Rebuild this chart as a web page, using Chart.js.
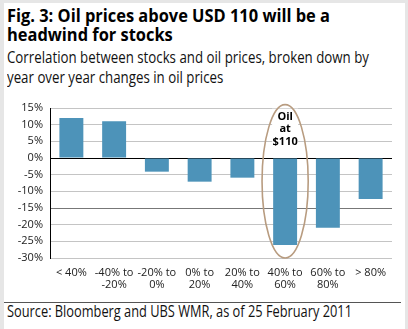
<!DOCTYPE html>
<html><head><meta charset="utf-8">
<script src="https://cdn.jsdelivr.net/npm/chart.js@4.4.1/dist/chart.umd.min.js"></script>
<style>
html,body{margin:0;padding:0;}
body{width:408px;height:329px;background:#e6e6e6;position:relative;overflow:hidden;font-family:"Open Sans",sans-serif;}
#panel{position:absolute;left:4px;top:3px;width:401px;height:326px;background:#fff;}
.t{position:absolute;left:7px;white-space:nowrap;transform-origin:0 0;color:#000;display:inline-block;}
.b{font-weight:700;font-size:18px;line-height:19px;}
.s{font-size:17px;line-height:19px;color:#111;}
.src{font-size:15.5px;line-height:17px;color:#111;}
#rule{position:absolute;left:4px;top:302px;width:397px;height:1px;background:#555;}
canvas{position:absolute;left:0;top:0;}
</style></head>
<body>
<div id="panel"></div>
<div class="t b" id="t1" data-w="323" style="top:6px">Fig. 3: Oil prices above USD 110 will be a</div>
<div class="t b" id="t2" data-ref="t1" style="top:25px">headwind for stocks</div>
<div class="t s" id="s1" data-w="362" style="top:47px">Correlation between stocks and oil prices, broken down by</div>
<div class="t s" id="s2" data-ref="s1" style="top:67px">year over year changes in oil prices</div>
<div id="rule"></div>
<div class="t src" id="src" data-w="345" style="top:303px">Source: Bloomberg and UBS WMR, as of 25 February 2011</div>
<canvas id="c" width="408" height="329"></canvas>
<script>
// ---- data ----
const categories = [["< 40%"], ["-40% to", "-20%"], ["-20% to", "0%"], ["0% to", "20%"], ["20% to", "40%"], ["40% to", "60%"], ["60% to", "80%"], ["> 80%"]];
const correlation = [12, 11, -4.1, -7.1, -5.9, -26.1, -20.9, -12.3];
const yTicks = [15, 10, 5, 0, -5, -10, -15, -20, -25, -30];
const calloutLines = ["Oil", "at", "$110"];
const calloutIndex = 5;

// ---- fit text widths ----
const scales = {};
document.querySelectorAll('.t').forEach(el => {
  const w = el.getBoundingClientRect().width;
  let s;
  if (el.dataset.w) { s = parseFloat(el.dataset.w) / w; scales[el.id] = s; }
  else s = scales[el.dataset.ref];
  el.style.transform = 'scaleX(' + s + ')';
});

const ovalPlugin = {
  id: 'oval',
  afterDatasetsDraw(chart) {
    const {ctx, scales: {x, y}} = chart;
    const cx = x.getPixelForValue(calloutIndex);
    const cw = x.getPixelForValue(1) - x.getPixelForValue(0);
    const top = y.getPixelForValue(16);
    const bot = y.getPixelForValue(-30);
    const rx = cw * 0.54, ry = (bot - top) / 2, cy = (top + bot) / 2;
    ctx.save();
    ctx.fillStyle = '#fff';
    ctx.fillRect(cx - 13, y.getPixelForValue(14.8), 26, y.getPixelForValue(2.4) - y.getPixelForValue(14.8));
    ctx.beginPath();
    ctx.ellipse(cx, cy, rx, ry, 0, 0, Math.PI * 2);
    ctx.strokeStyle = '#b89c80';
    ctx.lineWidth = 1.6;
    ctx.stroke();
    ctx.fillStyle = '#000';
    ctx.font = 'bold 11px "Open Sans"';
    ctx.textAlign = 'center';
    ctx.textBaseline = 'middle';
    const vals = [12.4, 8.6, 4.8];
    calloutLines.forEach((t, i) => ctx.fillText(t, cx, y.getPixelForValue(vals[i])));
    ctx.restore();
  }
};

new Chart(document.getElementById('c'), {
  type: 'bar',
  data: {
    labels: categories,
    datasets: [{
      data: correlation,
      backgroundColor: '#4d93b9',
      borderWidth: 0,
      categoryPercentage: 1,
      barPercentage: 0.56
    }]
  },
  options: {
    responsive: false,
    animation: false,
    devicePixelRatio: 1,
    layout: {padding: {top: 108, right: 16, bottom: 29, left: 0}},
    plugins: {legend: {display: false}, tooltip: {enabled: false}},
    scales: {
      x: {
        grid: {display: false, drawTicks: false},
        border: {display: false},
        afterFit(s) { s.height = 42; },
        ticks: {
          padding: 9, color: '#222', maxRotation: 0, autoSkip: false,
          font: {family: '"Open Sans"', size: 11, lineHeight: 1.1}
        }
      },
      y: {
        min: -30, max: 15,
        afterFit(s) { s.width = 50; },
        afterBuildTicks(s) { s.ticks = yTicks.map(v => ({value: v})); },
        border: {display: true, color: '#000', width: 1},
        grid: {
          drawTicks: false,
          color: c => c.tick.value === 0 ? '#000' : (c.tick.value === -15 ? '#777' : '#c4c4c4'),
          lineWidth: 1
        },
        ticks: {
          padding: 7, color: '#222',
          font: {family: '"Open Sans"', size: 11},
          callback: v => v + '%'
        }
      }
    }
  },
  plugins: [ovalPlugin]
});
</script>
</body></html>
